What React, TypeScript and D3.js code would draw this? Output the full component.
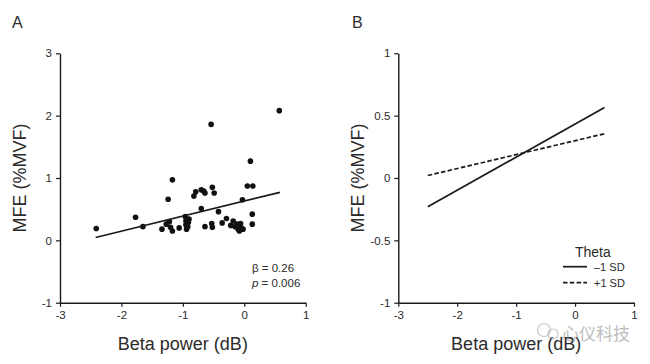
import React, { useEffect, useRef } from "react";
import * as d3 from "d3";

// Panel A scatter data (Beta power dB, MFE %MVF)
const betaA = [
  -2.41, -1.77, -1.65, -1.34, -1.27, -1.24, -1.22, -1.2, -1.17, -1.17, -1.06,
  -0.96, -0.95, -0.95, -0.94, -0.92, -0.91, -0.9, -0.82, -0.79, -0.7, -0.66,
  -0.64, -0.7, -0.64, -0.54, -0.52, -0.49, -0.53, -0.52, -0.42, -0.36, -0.29,
  -0.22, -0.18, -0.15, -0.12, -0.1, -0.08, -0.06, -0.05, -0.03, -0.02, 0.05,
  0.1, 0.14, 0.13, 0.13, 0.57,
];
const mfeA = [
  0.19, 0.37, 0.22, 0.18, 0.26, 0.66, 0.3, 0.21, 0.97, 0.15, 0.2, 0.38, 0.31,
  0.25, 0.18, 0.22, 0.29, 0.34, 0.71, 0.78, 0.81, 0.79, 0.76, 0.51, 0.22, 1.86,
  0.85, 0.76, 0.27, 0.21, 0.46, 0.28, 0.35, 0.24, 0.31, 0.22, 0.26, 0.18, 0.15,
  0.27, 0.2, 0.65, 0.18, 0.87, 1.27, 0.87, 0.42, 0.26, 2.08,
];
// Regression line, panel A
const fitX = [-2.42, 0.58];
const fitY = [0.045, 0.77];

// Panel B simple slopes
const slopeX = [-2.5, 0.5];
const lowThetaY = [-0.23, 0.565];
const highThetaY = [0.02, 0.355];

const xTicks = [-3, -2, -1, 0, 1];
const yTicksA = [-1, 0, 1, 2, 3];
const yTicksB = [-1, -0.5, 0, 0.5, 1];

const legendTitle = "Theta";
const legendLabels = ["\u20131 SD", "+1 SD"];
const panelLabels = ["A", "B"];
const xTitle = "Beta power (dB)";
const yTitle = "MFE (%MVF)";
const watermark = "心仪科技";

const FONT = "'Liberation Sans', Arial, sans-serif";
const TEXT = "#2b2b2b";
const INK = "#1a1a1a";

export default function App() {
  const ref = useRef<SVGSVGElement>(null);

  useEffect(() => {
    const svg = d3.select(ref.current);
    svg.selectAll("*").remove();

    const xA = d3.scaleLinear().domain([-3, 1]).range([60, 305.7]);
    const yA = d3.scaleLinear().domain([-1, 3]).range([302.7, 53.3]);
    const xB = d3.scaleLinear().domain([-3, 1]).range([398.3, 634]);
    const yB = d3.scaleLinear().domain([-1, 1]).range([302.7, 53.3]);

    const styleAxis = (g: any) => {
      g.select(".domain").attr("stroke", INK).attr("stroke-width", 1.4);
      g.selectAll(".tick line").attr("stroke", INK).attr("stroke-width", 1.2);
      g.selectAll(".tick text")
        .attr("fill", TEXT)
        .style("font-family", FONT)
        .style("font-size", "11.5px");
    };

    const fmt = (d: any) => (d < 0 ? "-" + Math.abs(d) : String(d));

    const addText = (x: number, y: number, s: string, size: number, anchor = "start") =>
      svg
        .append("text")
        .attr("x", x)
        .attr("y", y)
        .attr("text-anchor", anchor)
        .attr("fill", TEXT)
        .style("font-family", FONT)
        .style("font-size", size + "px")
        .text(s);

    // Panel A axes
    svg
      .append("g")
      .attr("transform", `translate(0,${yA(-1)})`)
      .call(d3.axisBottom(xA).tickValues(xTicks).tickSize(4).tickSizeOuter(0).tickPadding(4).tickFormat(fmt))
      .call(styleAxis);
    svg
      .append("g")
      .attr("transform", `translate(${xA(-3)},0)`)
      .call(d3.axisLeft(yA).tickValues(yTicksA).tickSize(4).tickSizeOuter(0).tickPadding(4).tickFormat(fmt))
      .call(styleAxis);

    // Panel B axes
    svg
      .append("g")
      .attr("transform", `translate(0,${yB(-1)})`)
      .call(d3.axisBottom(xB).tickValues(xTicks).tickSize(4).tickSizeOuter(0).tickPadding(4).tickFormat(fmt))
      .call(styleAxis);
    svg
      .append("g")
      .attr("transform", `translate(${xB(-3)},0)`)
      .call(d3.axisLeft(yB).tickValues(yTicksB).tickSize(4).tickSizeOuter(0).tickPadding(4).tickFormat(fmt))
      .call(styleAxis);

    // Panel letters
    addText(12, 28, panelLabels[0], 16);
    addText(352, 28, panelLabels[1], 16);

    // Axis titles
    addText(xA(-1), 350, xTitle, 18, "middle");
    addText(xB(-1), 350, xTitle, 18, "middle");
    addText(0, 0, yTitle, 18, "middle").attr("transform", `translate(26,${yA(1)}) rotate(-90)`);
    addText(0, 0, yTitle, 18, "middle").attr("transform", `translate(364,${yB(0)}) rotate(-90)`);

    // Scatter points
    svg
      .append("g")
      .selectAll("circle")
      .data(betaA.map((b, i) => [b, mfeA[i]]))
      .join("circle")
      .attr("cx", (d) => xA(d[0]))
      .attr("cy", (d) => yA(d[1]))
      .attr("r", 2.8)
      .attr("fill", "#111");

    // Fit line
    const lineA = d3
      .line<number>()
      .x((_, i) => xA(fitX[i]))
      .y((d) => yA(d));
    svg
      .append("path")
      .attr("d", lineA(fitY))
      .attr("fill", "none")
      .attr("stroke", INK)
      .attr("stroke-width", 1.7);

    // Stats annotation
    addText(252, 272, "\u03b2 = 0.26", 11.5);
    const pt = addText(252, 287, "", 11.5);
    pt.append("tspan").style("font-style", "italic").text("p");
    pt.append("tspan").text(" = 0.006");

    // Panel B lines
    const lineB = d3
      .line<number>()
      .x((_, i) => xB(slopeX[i]))
      .y((d) => yB(d));
    svg
      .append("path")
      .attr("d", lineB(lowThetaY))
      .attr("fill", "none")
      .attr("stroke", INK)
      .attr("stroke-width", 1.7);
    svg
      .append("path")
      .attr("d", lineB(highThetaY))
      .attr("fill", "none")
      .attr("stroke", INK)
      .attr("stroke-width", 1.7)
      .attr("stroke-dasharray", "4.5,2.3");

    // Legend
    addText(575, 257, legendTitle, 14);
    const legY = [266.7, 282.7];
    legY.forEach((ly, i) => {
      svg
        .append("line")
        .attr("x1", 563)
        .attr("x2", 587)
        .attr("y1", ly)
        .attr("y2", ly)
        .attr("stroke", INK)
        .attr("stroke-width", 1.7)
        .attr("stroke-dasharray", i === 1 ? "4.5,2.3" : null);
      addText(594, ly + 4, legendLabels[i], 11);
    });

    // Watermark
    const wm = svg.append("g").attr("opacity", 0.55);
    wm.append("circle").attr("cx", 544).attr("cy", 330).attr("r", 6.5).attr("fill", "none").attr("stroke", "#999").attr("stroke-width", 1.2);
    wm.append("circle").attr("cx", 553).attr("cy", 334).attr("r", 5).attr("fill", "none").attr("stroke", "#999").attr("stroke-width", 1.2);
    wm.append("text")
      .attr("x", 562)
      .attr("y", 340)
      .attr("fill", "#888")
      .style("font-family", "'Noto Sans CJK SC', sans-serif")
      .style("font-size", "17px")
      .text(watermark);
  }, []);

  return (
    <svg
      ref={ref}
      width={650}
      height={364}
      style={{ display: "block", position: "absolute", left: 0, top: 0, background: "#fff" }}
    />
  );
}
